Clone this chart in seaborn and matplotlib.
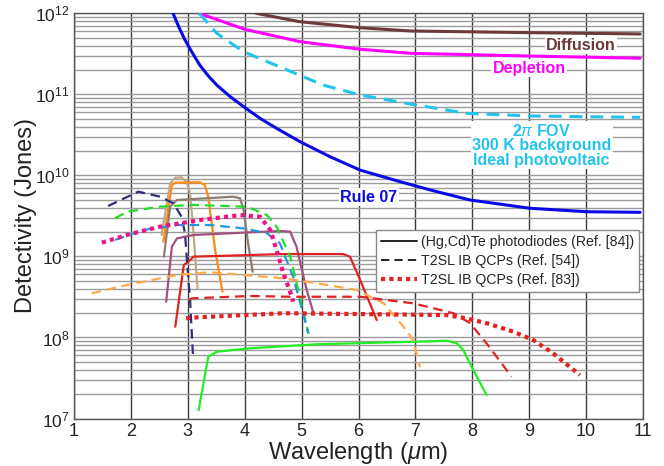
import numpy as np
import pandas as pd
import matplotlib
matplotlib.use("Agg")
import matplotlib.pyplot as plt
from matplotlib.lines import Line2D
from matplotlib.ticker import LogLocator, NullFormatter, FixedLocator
import seaborn as sns

# ---- theoretical limits (wavelength in um, detectivity in Jones) ----
diffusion_wl = [4.20, 4.97, 6.03, 6.91, 9.01, 10.95]
diffusion_d = [1.0e12, 7.87e11, 6.64e11, 6.05e11, 5.77e11, 5.56e11]

depletion_wl = [3.20, 4.00, 4.97, 6.03, 6.91, 9.01, 10.95]
depletion_d = [1.0e12, 6.35e11, 4.47e11, 3.60e11, 3.21e11, 2.97e11, 2.79e11]

fov_wl = [3.20, 3.51, 3.98, 4.68, 5.38, 6.03, 6.91, 7.90, 9.01, 10.95]
fov_d = [1.0e12, 5.66e11, 3.36e11, 2.09e11, 1.30e11, 9.82e10, 7.60e10, 5.83e10, 5.41e10, 5.20e10]

rule07_wl = [2.74, 2.85, 2.95, 3.08, 3.21, 3.35, 3.51, 3.75, 4.00, 4.28, 4.56, 4.97,
             5.50, 6.03, 6.73, 7.30, 7.96, 9.01, 10.01, 10.95]
rule07_d = [1.0e12, 6.6e11, 4.69e11, 3.25e11, 2.30e11, 1.72e11, 1.30e11, 9.3e10, 6.89e10,
            5.0e10, 3.81e10, 2.61e10, 1.7e10, 1.16e10, 8.36e9, 6.5e9, 4.97e9, 3.93e9,
            3.56e9, 3.50e9]

# ---- (Hg,Cd)Te photodiodes (solid) ----
tan_wl = [2.54, 2.69, 2.78, 2.89, 2.98, 3.04, 3.10, 3.17]
tan_d = [1.84e9, 7.98e9, 9.35e9, 9.46e9, 8.36e9, 6.01e9, 1.95e9, 4.05e8]

orange_wl = [2.57, 2.72, 2.78, 3.21, 3.30, 3.36, 3.48, 3.61]
orange_d = [1.52e9, 7.60e9, 8.13e9, 8.22e9, 7.60e9, 5.46e9, 1.20e9, 3.67e8]

taupe_wl = [2.58, 2.69, 2.81, 3.80, 3.92, 3.98, 4.06, 4.14]
taupe_d = [9.93e8, 4.11e9, 4.97e9, 5.46e9, 5.21e9, 3.74e9, 1.45e9, 6.47e8]

plum_wl = [2.62, 2.72, 2.81, 3.10, 4.62, 4.80, 4.91, 5.09, 5.21]
plum_d = [2.76e8, 1.32e9, 1.67e9, 1.84e9, 2.06e9, 2.02e9, 1.32e9, 3.85e8, 1.99e8]

red_wl = [2.78, 2.93, 3.04, 3.10, 4.68, 5.73, 5.85, 6.03, 6.32]
red_d = [1.36e8, 7.83e8, 9.0e8, 9.93e8, 1.07e9, 1.07e9, 9.93e8, 5.12e8, 1.64e8]

lime_wl = [3.19, 3.36, 3.51, 4.09, 5.27, 7.02, 7.55, 7.73, 7.84, 8.02, 8.25]
lime_d = [1.27e7, 5.79e7, 6.67e7, 7.35e7, 8.24e7, 8.87e7, 9.12e7, 8.47e7, 7.0e7, 3.96e7, 1.95e7]

# ---- T2SL IB QCPs, Ref. [54] (dashed) ----
navy_wl = [1.60, 2.13, 2.51, 2.75, 2.89, 2.95, 2.98, 3.04, 3.09]
navy_d = [4.19e9, 6.30e9, 5.46e9, 4.52e9, 3.09e9, 1.95e9, 9.93e8, 2.90e8, 6.08e7]

green_wl = [1.72, 1.93, 2.51, 3.09, 4.04, 4.39, 4.56, 4.80, 4.97, 5.12]
green_d = [2.95e9, 3.56e9, 4.11e9, 4.32e9, 4.11e9, 3.24e9, 2.33e9, 9.93e8, 3.18e8, 1.12e8]

sky_wl = [1.72, 2.22, 2.81, 3.39, 3.98, 4.39, 4.62, 4.85, 5.12]
sky_d = [1.60e9, 2.12e9, 2.44e9, 2.44e9, 2.22e9, 1.93e9, 1.45e9, 5.62e8, 1.12e8]

apricot_wl = [1.31, 1.93, 2.81, 3.39, 3.98, 4.68, 5.27, 5.97, 6.44, 6.79, 6.96, 7.08]
apricot_d = [3.51e8, 4.44e8, 5.90e8, 6.37e8, 5.90e8, 5.37e8, 4.66e8, 3.85e8, 2.64e8, 1.36e8, 9.31e7, 4.29e7]

reddash_wl = [3.03, 3.07, 4.09, 4.80, 6.03, 6.96, 7.67, 7.96, 8.25, 8.69]
reddash_d = [2.90e8, 3.04e8, 3.25e8, 3.18e8, 3.18e8, 2.64e8, 1.99e8, 1.50e8, 8.47e7, 3.28e7]

# ---- T2SL IB QCPs, Ref. [83] (dotted) ----
pink_wl = [1.49, 1.93, 2.51, 3.21, 3.92, 4.27, 4.45, 4.56, 4.68, 4.83, 4.85]
pink_d = [1.48e9, 1.84e9, 2.33e9, 2.81e9, 3.24e9, 3.09e9, 2.12e9, 1.20e9, 6.19e8, 3.18e8, 2.76e8]

reddot_wl = [2.97, 3.16, 4.68, 5.85, 7.55, 7.90, 8.25, 8.72, 9.07, 9.42, 9.89]
reddot_d = [1.72e8, 1.77e8, 1.99e8, 1.95e8, 1.89e8, 1.72e8, 1.50e8, 1.18e8, 9.31e7, 6.38e7, 3.44e7]

x_ticks = [1, 2, 3, 4, 5, 6, 7, 8, 9, 10, 11]
legend_labels = ["(Hg,Cd)Te photodiodes (Ref. [84])",
                 "T2SL IB QCPs (Ref. [54])",
                 "T2SL IB QCPs (Ref. [83])"]

sns.set_theme(style="white")
plt.rcParams["font.family"] = ["Liberation Sans", "DejaVu Sans"]
plt.rcParams["mathtext.fontset"] = "custom"
plt.rcParams["mathtext.rm"] = "Liberation Sans"
plt.rcParams["mathtext.it"] = "Liberation Sans:italic"
plt.rcParams["mathtext.bf"] = "Liberation Sans:bold"

fig = plt.figure(figsize=(6.64, 4.66), dpi=100)
ax = fig.add_axes([74 / 664, 1 - 418.5 / 466, 569 / 664, 405.2 / 466])

DASH = (0, (4.3, 2.6))
DOT = (0, (1, 1))

curves = [
    # theoretical limits
    (diffusion_wl, diffusion_d, "#6b3a3a", 2.2, "-"),
    (depletion_wl, depletion_d, "#ff00ff", 2.2, "-"),
    (fov_wl, fov_d, "#22c4ee", 2.2, (0, (4.2, 2.6))),
    (rule07_wl, rule07_d, "#0a0ae6", 2.2, "-"),
    # solid detectors
    (tan_wl, tan_d, "#c2a888", 1.6, "-"),
    (orange_wl, orange_d, "#ff8a14", 1.6, "-"),
    (taupe_wl, taupe_d, "#8c7d72", 1.6, "-"),
    (plum_wl, plum_d, "#a3507f", 1.6, "-"),
    (red_wl, red_d, "#e02222", 1.6, "-"),
    (lime_wl, lime_d, "#22ee22", 1.6, "-"),
    # dashed detectors
    (navy_wl, navy_d, "#2e2e7c", 1.6, DASH),
    (green_wl, green_d, "#22dd22", 1.6, DASH),
    (sky_wl, sky_d, "#2299dd", 1.6, DASH),
    (apricot_wl, apricot_d, "#ffaa4a", 1.6, DASH),
    (reddash_wl, reddash_d, "#e02222", 1.6, DASH),
    # dotted detectors
    (pink_wl, pink_d, "#ee1188", 3.0, DOT),
    (reddot_wl, reddot_d, "#e52020", 3.0, DOT),
]

for wl, d, color, lw, ls in curves:
    df = pd.DataFrame({"wl": wl, "d": d})
    sns.lineplot(data=df, x="wl", y="d", color=color, lw=lw, ls=ls,
                 sort=False, estimator=None, ax=ax, zorder=3)

ax.set_yscale("log")
ax.set_xlim(1, 11)
ax.set_ylim(1e7, 1e12)
ax.xaxis.set_major_locator(FixedLocator(x_ticks))
ax.set_xticklabels([str(t) for t in x_ticks])
ax.yaxis.set_major_locator(LogLocator(base=10, numticks=10))
ax.yaxis.set_minor_locator(LogLocator(base=10, subs=np.arange(2, 10), numticks=50))
ax.yaxis.set_minor_formatter(NullFormatter())

ax.grid(True, axis="y", which="both", color="#9c9c9c", lw=1.0, zorder=0)
ax.grid(True, axis="x", which="major", color="#3c3c3c", lw=1.0, zorder=0)
ax.set_axisbelow(True)
ax.tick_params(axis="both", which="both", length=0, colors="#222222")
ax.tick_params(axis="y", labelsize=12.5, pad=3)
ax.tick_params(axis="x", labelsize=13, pad=3)
for s in ax.spines.values():
    s.set_color("#555555")
    s.set_linewidth(1.0)

ax.set_xlabel(r"Wavelength ($\mu$m)", fontsize=17, color="#222222", labelpad=0)
ax.set_ylabel("Detectivity (Jones)", fontsize=17, color="#222222", labelpad=-1)

box = dict(facecolor="white", edgecolor="none", pad=1.0)
ax.text(9.91, 4.0e11, "Diffusion", color="#6b3a3a", fontsize=11.5, fontweight="bold",
        ha="center", va="center", bbox=box, zorder=4)
ax.text(9.0, 2.1e11, "Depletion", color="#ff00ff", fontsize=11.5, fontweight="bold",
        ha="center", va="center", bbox=box, zorder=4)
ax.text(9.22, 2.35e10, "2$\\pi$ FOV\n300 K background\nIdeal photovoltaic",
        color="#22c4ee", fontsize=11.5, fontweight="bold", ha="center", va="center",
        linespacing=0.95, bbox=box, zorder=4)
ax.text(6.18, 5.4e9, "Rule 07", color="#0a0ae6", fontsize=11.5, fontweight="bold",
        ha="center", va="center", bbox=box, zorder=4)

handles = [Line2D([], [], color="#222222", lw=1.4, ls="-"),
           Line2D([], [], color="#222222", lw=1.4, ls=(0, (4.3, 2.6))),
           Line2D([], [], color="#e52020", lw=3.0, ls=DOT)]
leg = ax.legend(handles, legend_labels, loc="upper right",
                bbox_to_anchor=(0.993, 0.466), fontsize=10.2, frameon=True,
                fancybox=False, edgecolor="#888888", framealpha=1.0,
                handlelength=2.6, handletextpad=0.25, borderpad=0.35,
                labelspacing=0.35, borderaxespad=0.0)
leg.get_frame().set_linewidth(1.0)
leg.set_zorder(5)

fig.savefig("out.png", dpi=100)
